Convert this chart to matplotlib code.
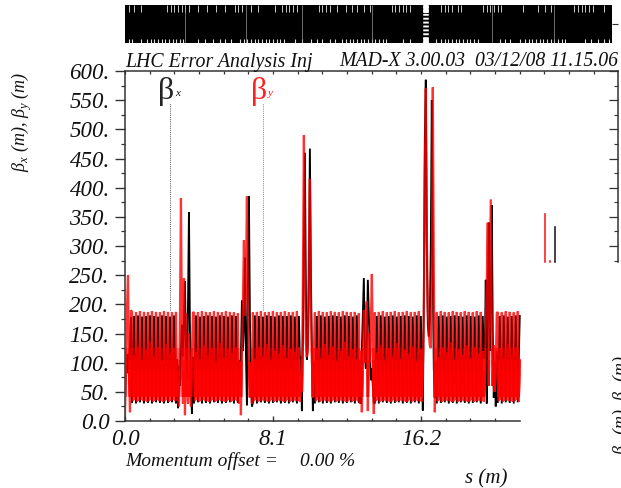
import numpy as np
import matplotlib
matplotlib.use("Agg")
import matplotlib.pyplot as plt
from matplotlib.patches import Rectangle

# sampled optics functions: one value per sampling step along s
STEP = 0.0547
by_start = [10,100,195,250,90,15,190]
bx_start = [120,95,82,115,90,130,178]
by_arc1 = [187,34,112,36,186,33,128,35,188,36,104,34,187,35,121,33,186,34,134,36,188,33,110,35,187,36,126,34,186,35,102,33,188,34,131,36,187,33,115,35,186,36,124,34,187,35]
bx_arc1 = [31,104,180,106,30,105,181,104,32,106,179,105,30,104,180,106,31,105,181,104,30,106,180,105,32,104,179,106,31,105,181,104,30,106,180,105,31,104,179,106,32,105,181,104,30,106]
by_ir1 = [40,25,180,382,140,30,245,10,185,60,30,150,60,25,120,185]
bx_ir1 = [22,95,60,120,165,110,170,240,120,70,190,358,150,60,12,110]
by_arc2 = [187,34,118,36,186,33,106,35,188,36,129,34,187,35,113,33,186,34,125,36,188,33,101,35,187,36,133,34,186,35,109,33,188,34,122,36,187,33,116,35,186,36,127,34,185,30]
bx_arc2 = [30,105,181,104,32,106,179,105,30,104,180,106,31,105,181,104,30,106,180,105,32,104,179,106,31,105,181,104,30,106,180,105,31,104,179,106,32,105,181,104,30,106,180,105,31,104]
by_ir2 = [100,10,120,205,310,180,240,385,200,100,40,100,30]
bx_ir2 = [60,110,207,120,160,280,120,27,240,385,170,90,25]
by_arc3 = [186,34,105,36,187,33,127,35,188,36,111,34,186,35,132,33,187,34,103,36,188,33,120,35,186,36,114,34,187,35,130,33,188,34,108,36,186,33,123,35,187,36,117,34,188,35,126,33]
bx_arc3 = [31,105,181,104,30,106,180,105,32,104,179,106,31,105,181,104,30,106,180,105,31,104,179,106,32,105,181,104,30,106,180,105,31,104,180,106,30,105,181,104,32,106,179,105,30,104,180,106]
by_ir3 = [60,50,230,490,250,135,110,125,300,415,190,110,40,120]
bx_ir3 = [110,17,140,300,460,220,105,130,240,467,250,120,17,100]
by_arc4 = [186,34,124,36,188,33,107,35,187,36,131,34,186,35,112,33,188,34,128,36,187,33,102,35,186,36,119,34,188,35,135,33,187,34,110,36,186,33,122,35,187,36,105,34,185,30]
bx_arc4 = [30,105,180,104,32,106,181,105,30,104,179,106,31,105,180,104,30,106,181,105,32,104,180,106,31,105,179,104,30,106,181,105,31,104,180,106,32,105,179,104,30,106,181,105,31,104]
by_ir4 = [120,15,110,190,100,190,205,17,150,100,160,252,120,12]
bx_ir4 = [30,120,180,245,110,90,140,242,180,120,70,90,60,30]
by_arc5 = [186,34,116,36,187,33,129,35,188,36,103,34,186,35,125,33,187,34,110,36,188,33,133,35,186,36,106,34,187,35,121,33,188,34,114,36,186,33,128,35,187,36,101,34,188,35,123,33]
bx_arc5 = [31,105,180,104,30,106,181,105,32,104,179,106,31,105,180,104,30,106,181,105,31,104,179,106,32,105,180,104,30,106,181,105,31,104,180,106,30,105,179,104,32,106,181,105,30,104,180,106]
by_ir5 = [90,180,420,570,320,190,150,130,125,250,572,260,15,110]
bx_ir5 = [18,200,480,585,300,165,145,170,300,550,250,90,40,100]
by_arc6 = [186,34,109,36,188,33,126,35,187,36,118,34,186,35,134,33,188,34,104,36,187,33,122,35,186,36,112,34,188,35,130,33,187,34,107,36,186,33,127,35,188,36,115,34,187,35,120,33]
bx_arc6 = [30,105,180,104,31,106,181,105,32,104,179,106,30,105,180,104,31,106,181,105,30,104,180,106,32,105,179,104,31,106,181,105,30,104,180,106,31,105,179,104,32,106,181,105,30,104,180,106]
by_ir6 = [60,170,240,340,60,220,380,160,60,130,50,95,185]
bx_ir6 = [110,242,30,200,340,120,200,370,150,40,100,25,120]
by_arc7 = [187,34,125,36,186,33,108,35,188,36,131,34,187,35,113,33,186,34,127,36,188,33,104]
bx_arc7 = [31,105,180,104,30,106,181,105,32,104,179,106,31,105,180,104,30,106,181,105,32,104,180]

# pieces of the next peaks, seen through the gap at the right
frag_y_s = [23.0, 23.0]
frag_y_b = [272, 355]
frag_y2_s = [23.25, 23.25]
frag_y2_b = [272, 275]
frag_x_s = [23.52, 23.52]
frag_x_b = [272, 333]

# marker pointers of the legend
pointer_x_s = 2.48
pointer_y_s = 7.55
pointer_b = [190, 545]

yticks = [0,50,100,150,200,250,300,350,400,450,500,550,600]
ylabels = ["0.0","50.","100.","150.","200.","250.","300.","350.","400.","450.","500.","550.","600."]
xlabeled = [0.0, 8.1, 16.2]
xlabeltext = ["0.0","8.1","16.2"]

# element bar: white slits in upper and lower rows, and full gaps
top_slits = [0.2,0.5,0.9,2.3,2.5,2.7,2.9,3.1,3.3,3.5,4.0,4.5,5.0,5.5,6.0,6.2,6.4,6.9,7.3,8.2,8.6,8.8,9.0,9.2,9.4,10.6,10.8,11.0,11.2,11.6,12.1,12.4,12.7,13.1,13.4,14.6,14.8,15.0,15.2,15.4,15.6,17.3,17.5,17.7,17.9,18.2,18.4,19.6,19.8,20.0,20.2,20.4,20.6,21.8,22.6,23.0,23.3,24.6,24.8,25.0,25.2,25.4,25.6,26.2]
bot_slits = [0.2,0.4,0.9,1.2,1.4,1.6,1.8,2.0,2.2,2.4,2.6,2.8,3.0,3.2,4.0,4.4,4.8,5.2,5.5,5.8,6.3,6.5,6.7,6.9,7.1,7.3,7.5,7.7,7.9,8.1,8.3,8.5,8.7,9.3,9.7,10.2,10.5,10.8,11.2,11.5,11.9,12.1,12.3,12.5,12.7,12.9,13.1,13.3,13.5,13.7,13.9,14.1,14.3,15.2,15.6,17.0,17.3,17.5,17.7,17.9,18.1,18.3,18.5,18.7,18.9,19.1,19.3,20.5,20.8,21.1,21.6,21.9,22.1,22.3,22.5,22.7,22.9,23.1,23.3,23.5,23.7,23.9,24.1,25.2,25.5,25.9,26.2,26.5]
full_gaps = [3.3, 6.6, 9.7, 13.5, 20.1, 23.5]
wide_gap = [16.5]

beta_y = np.array(by_start+by_arc1+by_ir1+by_arc2+by_ir2+by_arc3+by_ir3+by_arc4+by_ir4+by_arc5+by_ir5+by_arc6+by_ir6+by_arc7, float)
beta_x = np.array(bx_start+bx_arc1+bx_ir1+bx_arc2+bx_ir2+bx_arc3+bx_ir3+bx_arc4+bx_ir4+bx_arc5+bx_ir5+bx_arc6+bx_ir6+bx_arc7, float)
s = np.arange(len(beta_y)) * STEP

W, H = 621, 488
plt.rcParams['font.family'] = ['Liberation Serif', 'DejaVu Serif']
fig = plt.figure(figsize=(W/100, H/100), dpi=100)

def box(x0, ytop, x1, ybot):
    return [x0/W, 1-ybot/H, (x1-x0)/W, (ybot-ytop)/H]

def put(px, py, txt, **kw):
    kw.setdefault('style', 'italic')
    kw.setdefault('color', '#111111')
    return fig.text(px/W, 1-py/H, txt, **kw)

ax = fig.add_axes(box(125, 71, 618, 421))
XMAX = 493/18.27
ax.set_xlim(0, XMAX); ax.set_ylim(0, 600)
ax.plot(s, beta_x, color='black', lw=1.35, solid_joinstyle='miter', zorder=2)
ax.plot(s, beta_y, color='#ff0000', lw=1.6, alpha=0.8, solid_joinstyle='miter', zorder=3)
# the lower part of the band reads as bright red: repaint it in soft steps
for upper in (85, 105, 125):
    ln, = ax.plot(s, beta_y, color='#ff0000', lw=1.6, alpha=0.55, solid_joinstyle='miter', zorder=4)
    ln.set_clip_path(Rectangle((0, 42), XMAX, upper-42, transform=ax.transData))
ax.plot(frag_y_s, frag_y_b, color='#ff2020', lw=1.2)
ax.plot(frag_y2_s, frag_y2_b, color='#ff2020', lw=1.2)
ax.plot(frag_x_s, frag_x_b, color='#222222', lw=1.2)
ax.plot([pointer_x_s]*2, pointer_b, color='#555555', lw=0.7, ls=(0,(1,1.2)), zorder=1)
ax.plot([pointer_y_s]*2, pointer_b, color='#ff5050', lw=0.7, ls=(0,(1,1.2)), zorder=1)

SP = '#333333'
for n in ('top', 'right'):
    ax.spines[n].set_visible(False)
for n in ('left', 'bottom'):
    ax.spines[n].set_color(SP); ax.spines[n].set_linewidth(1.1)
ax.spines['bottom'].set_bounds(0, 21.6)
ax.set_yticks(yticks); ax.set_yticklabels(ylabels, fontsize=16.5, style='italic', color='#111111')
ax.set_yticks(np.array(yticks[:-1])+25, minor=True)
ax.tick_params(axis='y', which='major', direction='out', length=7, width=1, color=SP, pad=4)
ax.tick_params(axis='y', which='minor', direction='out', length=3, width=0.9, color=SP)
ax.set_xticks(xlabeled); ax.set_xticklabels(xlabeltext, fontsize=16.5, style='italic', color='#111111')
ax.set_xticks(np.arange(0, 16)*1.35+0, minor=True)
ax.tick_params(axis='x', which='major', direction='in', length=3.5, width=1, color=SP, pad=6)
ax.tick_params(axis='x', which='minor', direction='in', length=2.5, width=0.9, color=SP)
ax.xaxis.set_tick_params(which='minor', bottom=True)

top = ax.twiny(); top.set_xlim(0, XMAX)
for n in ('left','right','bottom'):
    top.spines[n].set_visible(False)
top.spines['top'].set_color(SP); top.spines['top'].set_linewidth(1.1)
top.set_xticks(np.arange(0, 20)*1.35); top.set_xticklabels([])
top.tick_params(axis='x', direction='in', length=2.5, width=0.9, color=SP)

right = ax.twinx(); right.set_ylim(0, 600)
for n in ('left','top','bottom'):
    right.spines[n].set_visible(False)
right.spines['right'].set_color(SP); right.spines['right'].set_linewidth(1.1)
right.spines['right'].set_bounds(272, 600)
right.set_yticks(yticks[6:]); right.set_yticklabels([])
right.set_yticks(np.array(yticks[5:-1])+25, minor=True)
right.tick_params(axis='y', which='major', direction='in', length=6.5, width=0.9, color=SP)
right.tick_params(axis='y', which='minor', direction='in', length=3, width=0.8, color=SP)

bar = fig.add_axes(box(125, 5, 612, 43), facecolor='black')
bar.set_xlim(0, 487/18.27); bar.set_ylim(0, 1)
bar.vlines(top_slits, 0.82, 1, color='#cccccc', lw=0.7)
bar.vlines(bot_slits, 0, 0.11, color='#dddddd', lw=0.8)
bar.vlines(full_gaps, 0, 1, color='#999999', lw=0.5)
bar.vlines(wide_gap, 0.0, 1, color='white', lw=4, linestyles=(0,(0.35,0.35)))
bar.vlines(wide_gap, 0.80, 1, color='white', lw=4)
bar.vlines(wide_gap, 0, 0.12, color='white', lw=4)
for sp in bar.spines.values():
    sp.set_visible(False)
bar.set_xticks([]); bar.yaxis.tick_right(); bar.set_yticks([0.5]); bar.set_yticklabels([])
bar.tick_params(axis='y', direction='out', length=4, width=0.8, color=SP)

put(125, 62, "LHC Error Analysis Inj", fontsize=14.3, va='center')
put(339, 62, "MAD-X 3.00.03  03/12/08 11.15.06", fontsize=14.2, va='center')
put(125, 461, "Momentum offset =", fontsize=14, va='center')
put(300, 461, "0.00 %", fontsize=14, va='center')
put(465, 479, "s (m)", fontsize=15, va='center')
put(158, 91, "β", fontsize=23, style='normal', color='#222222', va='center')
put(175, 94, "x", fontsize=8, va='center')
put(251, 91, "β", fontsize=23, style='normal', color='#ff2020', va='center')
put(268, 94, "y", fontsize=8, color='#ff2020', va='center')
put(22, 122, "β$_{\\mathregular{x}}$ (m), β$_{\\mathregular{y}}$ (m)", fontsize=13, rotation=90, va='center', ha='center')
put(611, 405, "β$_{\\mathregular{x}}$ (m), β$_{\\mathregular{y}}$ (m)", fontsize=13, rotation=90, va='center', ha='left')

fig.savefig("out.png", dpi=100)
